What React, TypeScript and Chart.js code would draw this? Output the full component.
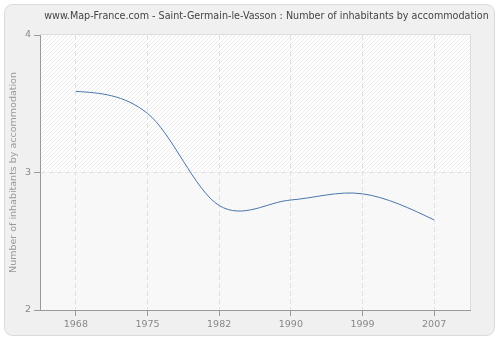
import { useEffect, useRef } from "react";
import { Chart, registerables } from "chart.js";

Chart.register(...registerables);

const chartTitle =
  "www.Map-France.com - Saint-Germain-le-Vasson : Number of inhabitants by accommodation";
const yAxisTitle = "Number of inhabitants by accommodation";
const years = ["1968", "1975", "1982", "1990", "1999", "2007"];
const inhabitantsPerHousing = [3.59, 3.43, 2.76, 2.8, 2.845, 2.655];
const yMin = 2;
const yMax = 4;
const yStep = 1;

const FONT = "'DejaVu Sans', Verdana, sans-serif";

function roundRect(ctx: CanvasRenderingContext2D, x: number, y: number, w: number, h: number, r: number) {
  ctx.beginPath();
  ctx.moveTo(x + r, y);
  ctx.lineTo(x + w - r, y);
  ctx.arcTo(x + w, y, x + w, y + r, r);
  ctx.lineTo(x + w, y + h - r);
  ctx.arcTo(x + w, y + h, x + w - r, y + h, r);
  ctx.lineTo(x + r, y + h);
  ctx.arcTo(x, y + h, x, y + h - r, r);
  ctx.lineTo(x, y + r);
  ctx.arcTo(x, y, x + r, y, r);
  ctx.closePath();
}

function hatch(ctx: CanvasRenderingContext2D, x: number, y: number, w: number, h: number, color: string) {
  ctx.save();
  ctx.beginPath();
  ctx.rect(x, y, w, h);
  ctx.clip();
  ctx.strokeStyle = color;
  ctx.lineWidth = 1;
  ctx.beginPath();
  for (let k = -h - 4; k < w + 4; k += 4) {
    ctx.moveTo(x + k, y + h);
    ctx.lineTo(x + k + h, y);
  }
  ctx.stroke();
  ctx.restore();
}

const backgroundPlugin = {
  id: "panelBackground",
  beforeDraw(chart: any) {
    const { ctx, chartArea: a } = chart;
    ctx.save();
    roundRect(ctx, 4.5, 4.5, 490, 331, 8);
    ctx.fillStyle = "#f0f0f0";
    ctx.fill();
    ctx.strokeStyle = "#dadada";
    ctx.lineWidth = 1;
    ctx.stroke();

    const w = a.right - a.left;
    const ySplit = chart.scales.y.getPixelForValue(3);
    ctx.fillStyle = "#ffffff";
    ctx.fillRect(a.left, a.top, w, ySplit - a.top);
    ctx.fillStyle = "#fafafa";
    ctx.fillRect(a.left, ySplit, w, a.bottom - ySplit);
    hatch(ctx, a.left, a.top, w, ySplit - a.top, "#ebebeb");
    hatch(ctx, a.left, ySplit, w, a.bottom - ySplit, "#f2f2f2");

    ctx.strokeStyle = "#dddddd";
    ctx.beginPath();
    ctx.moveTo(a.left, a.top - 0.5);
    ctx.lineTo(a.right + 0.5, a.top - 0.5);
    ctx.lineTo(a.right + 0.5, a.bottom);
    ctx.stroke();

    ctx.font = `9.6px ${FONT}`;
    ctx.fillStyle = "#444444";
    ctx.textAlign = "center";
    ctx.textBaseline = "middle";
    ctx.fillText(chartTitle, 266.5, 16);
    ctx.restore();
  },
};

// Smooth the line as a cardinal spline with "natural" end tangents.
const splinePlugin = {
  id: "smoothSpline",
  beforeDatasetDraw(chart: any, args: any) {
    const meta = chart.getDatasetMeta(args.index);
    const line: any = meta.dataset;
    const pts: any[] = meta.data;
    const n = pts.length;
    if (!line || n < 3) return;
    line.updateControlPoints(chart.chartArea, "x");
    const m: number[] = new Array(n).fill(0);
    for (let i = 1; i < n - 1; i++) {
      m[i] = (pts[i + 1].y - pts[i - 1].y) / (pts[i + 1].x - pts[i - 1].x);
    }
    const c0 = (pts[1].y - pts[0].y) / (pts[1].x - pts[0].x);
    m[0] = (3 * c0 - m[1]) / 2;
    const cn = (pts[n - 1].y - pts[n - 2].y) / (pts[n - 1].x - pts[n - 2].x);
    m[n - 1] = (3 * cn - m[n - 2]) / 2;
    for (let i = 0; i < n; i++) {
      const p = pts[i];
      const dxPrev = i > 0 ? (p.x - pts[i - 1].x) / 3 : 0;
      const dxNext = i < n - 1 ? (pts[i + 1].x - p.x) / 3 : 0;
      p.cp1x = p.x - dxPrev;
      p.cp1y = p.y - m[i] * dxPrev;
      p.cp2x = p.x + dxNext;
      p.cp2y = p.y + m[i] * dxNext;
    }
  },
};

export default function App() {
  const canvasRef = useRef<HTMLCanvasElement | null>(null);

  useEffect(() => {
    if (!canvasRef.current) return;
    const chart = new Chart(canvasRef.current, {
      type: "line",
      data: {
        labels: years,
        datasets: [
          {
            data: inhabitantsPerHousing,
            borderColor: "#4a76ab",
            borderWidth: 1,
            pointRadius: 0,
            pointHoverRadius: 0,
            fill: false,
            tension: 0.4,
          },
        ],
      },
      options: {
        responsive: false,
        animation: false,
        devicePixelRatio: 1,
        layout: { padding: { left: 0, top: 35, right: 30, bottom: 0 } },
        plugins: {
          legend: { display: false },
          title: { display: false },
          tooltip: { enabled: false },
        },
        events: [],
        scales: {
          x: {
            type: "category",
            offset: true,
            afterFit: (axis: any) => {
              axis.height = 30;
            },
            grid: {
              display: true,
              offset: false,
              color: "#e2e2e2",
              lineWidth: 1,
              drawTicks: true,
              tickLength: 6,
              tickColor: "#999999",
            },
            border: { display: true, color: "#999999", width: 1, dash: [5, 3] },
            ticks: {
              color: "#888888",
              font: { family: FONT, size: 9.5 },
              padding: 3,
              maxRotation: 0,
              autoSkip: false,
            },
          },
          y: {
            min: yMin,
            max: yMax,
            afterFit: (axis: any) => {
              axis.width = 40;
            },
            ticks: {
              stepSize: yStep,
              color: "#888888",
              font: { family: FONT, size: 9.5 },
              padding: 3,
            },
            grid: {
              display: true,
              color: (c: any) => (c.tick && c.tick.value === 3 ? "#e2e2e2" : "rgba(0,0,0,0)"),
              lineWidth: 1,
              drawTicks: true,
              tickLength: 6,
              tickColor: "#999999",
            },
            border: { display: true, color: "#999999", width: 1, dash: [5, 3] },
            title: {
              display: true,
              text: yAxisTitle,
              color: "#999999",
              font: { family: FONT, size: 9.5 },
              padding: { top: 8, bottom: 0 },
            },
          },
        },
      },
      plugins: [backgroundPlugin, splinePlugin],
    } as any);
    return () => chart.destroy();
  }, []);

  return (
    <div style={{ position: "absolute", left: 0, top: 0, width: 500, height: 340 }}>
      <canvas ref={canvasRef} width={500} height={340} />
    </div>
  );
}
